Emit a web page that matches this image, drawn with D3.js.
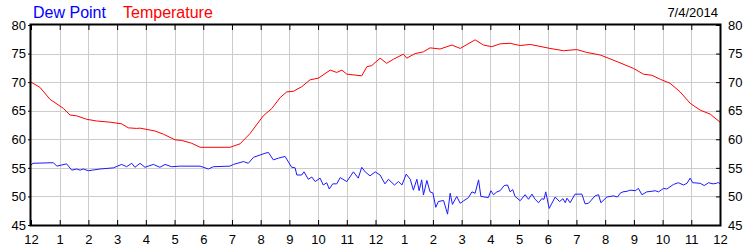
<!DOCTYPE html>
<html>
<head>
<meta charset="utf-8">
<script src="https://cdn.jsdelivr.net/npm/d3@7"></script>
<style>
  body { margin: 0; background: #fff; }
  svg { display: block; font-family: "Liberation Sans", Arial, sans-serif; }
</style>
</head>
<body>
<svg id="chart" width="750" height="250"></svg>
<script>
// hour labels along the bottom
const hourLabels = ['12','1','2','3','4','5','6','7','8','9','10','11','12','1','2','3','4','5','6','7','8','9','10','11','12']
const yTicks = [45, 50, 55, 60, 65, 70, 75, 80]
const dateLabel = '7/4/2014'

// temperature, hours since midnight / degrees F
const tempHours = [0, 0.31, 0.66, 1.13, 1.36, 1.59, 1.94, 2.29, 2.75, 3.16, 3.39, 3.68, 3.80, 4.32, 4.61, 5.02, 5.25, 5.6, 5.89, 6.93,
    7.28, 7.63, 8.09, 8.39, 8.68, 8.91, 9.14, 9.43, 9.72, 10.01, 10.42, 10.65, 10.83, 11.0, 11.52, 11.70, 11.87, 12.16, 12.39, 12.62,
    12.97, 13.09, 13.38, 13.67, 13.90, 14.25, 14.66, 14.95, 15.47, 15.76, 16.05, 16.34, 16.69, 17.04, 17.39, 18.08, 18.55, 19.01,
    19.36, 19.83, 20.41, 20.99, 21.33, 21.63, 21.92, 22.26, 22.61, 22.96, 23.31, 23.66, 24]
const tempValues = [70.0, 69.1, 67.0, 65.4, 64.25, 64.1, 63.5, 63.2, 63.0, 62.7, 62.0, 61.9, 61.95, 61.45, 60.9, 59.9, 59.8, 59.3, 58.6, 58.6,
    59.2, 61.0, 64.1, 65.4, 67.3, 68.3, 68.4, 69.2, 70.4, 70.7, 72.1, 71.7, 72.1, 71.4, 71.1, 72.7, 72.9, 74.2, 73.3, 74.0,
    74.9, 74.2, 75.0, 75.3, 76.0, 75.8, 76.5, 75.9, 77.4, 76.5, 76.2, 76.7, 76.8, 76.4, 76.6, 75.9, 75.5, 75.7,
    75.2, 74.75, 73.6, 72.4, 71.4, 71.2, 70.5, 69.8, 68.3, 66.3, 65.1, 64.4, 63.0]

// dew point
const dewHours = [0, 0.07, 0.78, 0.9, 1.24, 1.42, 1.59, 1.71, 1.82, 2.0, 2.4, 2.87, 3.16, 3.33, 3.51, 3.62, 3.8, 3.97, 4.26, 4.49,
    4.67, 4.9, 5.19, 5.89, 6.18, 6.35, 6.93, 7.05, 7.4, 7.57, 7.75, 7.98, 8.15, 8.27, 8.44, 8.62, 8.85, 9.08, 9.2, 9.26,
    9.43, 9.51, 9.66, 9.78, 9.9, 10.07, 10.18, 10.3, 10.39, 10.51, 10.65, 10.77, 11.0, 11.23, 11.4, 11.52, 11.64, 11.81, 11.99, 12.16,
    12.33, 12.45, 12.66, 12.8, 12.92, 13.07, 13.21, 13.32, 13.44, 13.52, 13.61, 13.67, 13.79, 13.9, 14.0, 14.1, 14.19, 14.37, 14.51, 14.6,
    14.68, 14.83, 14.95, 15.06, 15.24, 15.36, 15.47, 15.59, 15.67, 15.93, 16.02, 16.11, 16.23, 16.34, 16.48, 16.6, 16.69, 16.78, 16.86, 17.04,
    17.21, 17.33, 17.45, 17.56, 17.68, 17.79, 17.87, 17.93, 18.05, 18.26, 18.41, 18.53, 18.61, 18.67, 18.78, 18.95, 19.19, 19.3, 19.42, 19.65,
    19.77, 19.85, 20.06, 20.29, 20.43, 20.52, 20.62, 20.76, 20.87, 21.05, 21.16, 21.28, 21.45, 21.63, 21.74, 21.86, 22.03, 22.15, 22.38, 22.55,
    22.73, 22.85, 22.96, 23.05, 23.31, 23.45, 23.6, 23.76, 23.88, 23.94, 24]
const dewValues = [55.5, 55.8, 55.9, 55.3, 55.7, 54.6, 54.8, 54.6, 54.8, 54.5, 54.8, 55.0, 55.6, 55.2, 55.8, 55.1, 55.8, 55.1, 55.6, 55.1,
    55.6, 55.2, 55.3, 55.3, 54.8, 55.2, 55.3, 55.6, 56.1, 55.8, 56.85, 57.25, 57.55, 57.7, 56.4, 56.7, 57.0, 55.1, 55.0, 53.75,
    53.75, 54.3, 53.0, 53.4, 52.6, 53.2, 52.0, 52.4, 51.3, 52.2, 52.2, 53.3, 52.6, 54.3, 53.2, 55.1, 54.3, 53.6, 54.3, 53.75,
    52.2, 53.0, 52.0, 52.6, 52.0, 53.9, 53.0, 51.1, 53.0, 51.0, 52.9, 50.25, 52.8, 50.8, 50.6, 48.1, 49.1, 49.3, 46.9, 50.55,
    48.6, 50.0, 48.8, 49.2, 49.8, 50.8, 50.55, 52.9, 50.0, 49.8, 51.0, 50.3, 50.8, 51.0, 51.9, 52.0, 50.8, 51.2, 50.0, 49.25,
    50.3, 49.5, 50.4, 49.5, 48.9, 49.6, 49.5, 50.8, 47.9, 49.9, 49.1, 49.6, 48.9, 49.7, 48.9, 50.4, 50.4, 48.7, 48.8, 50.1,
    50.3, 48.9, 49.9, 50.1, 49.9, 50.55, 50.8, 50.9, 51.1, 51.0, 51.4, 50.3, 50.8, 50.9, 51.0, 50.8, 51.4, 51.3, 52.1, 52.4,
    52.0, 52.3, 53.2, 52.4, 52.3, 51.9, 52.4, 52.2, 52.3, 52.45, 52.2]

const margin = { left: 31, right: 30, top: 25, bottom: 25 }
const width = 750, height = 250

const svg = d3.select('#chart')

const x = d3.scaleLinear()
    .domain([0, 24])
    .range([margin.left, width - margin.right])

const y = d3.scaleLinear()
    .domain([45, 80])
    .range([height - margin.bottom, margin.top])

const hours = d3.range(hourLabels.length)

// grid
svg.append('g')
    .selectAll('line')
    .data(hours.slice(1, -1))
    .join('line')
    .attr('x1', d => Math.round(x(d)) + 0.5)
    .attr('x2', d => Math.round(x(d)) + 0.5)
    .attr('y1', y(80))
    .attr('y2', y(45))
    .attr('stroke', '#cccccc')

svg.append('g')
    .selectAll('line')
    .data(yTicks.slice(1, -1))
    .join('line')
    .attr('x1', x(0))
    .attr('x2', x(24))
    .attr('y1', d => Math.round(y(d)) + 0.5)
    .attr('y2', d => Math.round(y(d)) + 0.5)
    .attr('stroke', '#cccccc')

// lines
const line = d3.line()
    .x(d => x(d[0]))
    .y(d => y(d[1]))

svg.append('path')
    .datum(d3.zip(dewHours, dewValues))
    .attr('d', line)
    .attr('fill', 'none')
    .attr('stroke', '#1a1aff')
    .attr('stroke-width', 1)

svg.append('path')
    .datum(d3.zip(tempHours, tempValues))
    .attr('d', line)
    .attr('fill', 'none')
    .attr('stroke', '#ff0000')
    .attr('stroke-width', 1)

// frame
svg.append('rect')
    .attr('x', x(0) - 0.5)
    .attr('y', y(80) - 0.5)
    .attr('width', x(24) - x(0) + 1)
    .attr('height', y(45) - y(80) + 1)
    .attr('fill', 'none')
    .attr('stroke', '#000')
    .attr('stroke-width', 2)

// axes
const fmtHour = i => hourLabels[i]

svg.append('g')
    .attr('transform', `translate(0,${y(45)})`)
    .call(d3.axisBottom(x).tickValues(hours).tickFormat(fmtHour).tickSizeInner(-5).tickSizeOuter(0).tickPadding(10))
    .call(g => g.select('.domain').remove())

svg.append('g')
    .attr('transform', `translate(0,${y(80)})`)
    .call(d3.axisTop(x).tickValues(hours).tickFormat('').tickSizeInner(-5).tickSizeOuter(0))
    .call(g => g.select('.domain').remove())

svg.append('g')
    .attr('transform', `translate(${x(0)},0)`)
    .call(d3.axisLeft(y).tickValues(yTicks).tickSize(3).tickPadding(2))
    .call(g => g.select('.domain').remove())

svg.append('g')
    .attr('transform', `translate(${x(24)},0)`)
    .call(d3.axisRight(y).tickValues(yTicks).tickSizeInner(-4).tickSizeOuter(0).tickPadding(8))
    .call(g => g.select('.domain').remove())

svg.selectAll('.tick text')
    .style('font-size', '13px')
    .attr('fill', '#000')
    .style('font-family', '"Liberation Sans", Arial, sans-serif')
svg.selectAll('.tick line').attr('stroke', '#000')

// legend + date
svg.append('text')
    .attr('x', 33).attr('y', 18)
    .attr('fill', '#0000ff')
    .style('font-size', '16px')
    .text('Dew Point')

svg.append('text')
    .attr('x', 123).attr('y', 18)
    .attr('fill', '#ff0000')
    .style('font-size', '16px')
    .text('Temperature')

svg.append('text')
    .attr('x', 718).attr('y', 17)
    .attr('text-anchor', 'end')
    .attr('fill', '#000')
    .style('font-size', '13px')
    .text(dateLabel)
</script>
</body>
</html>
